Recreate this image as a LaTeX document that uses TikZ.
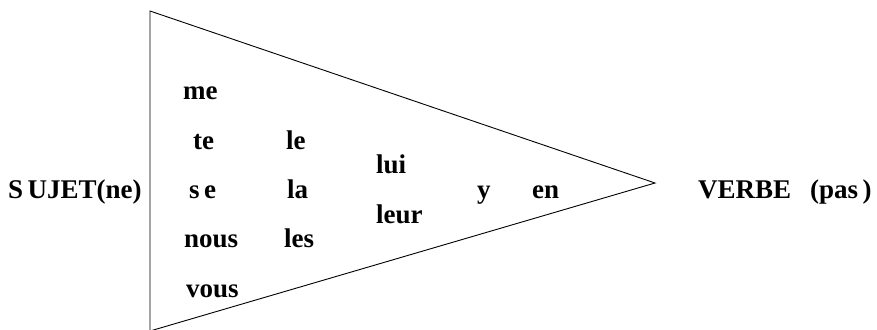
\documentclass[tikz,border=0pt]{standalone}
\usepackage{fontspec}
\setmainfont{Liberation Serif}
\begin{document}
\begin{tikzpicture}[x=1pt,y=-1pt,
  word/.style={anchor=base west,inner sep=0pt,font=\fontsize{27}{32}\selectfont\bfseries},
  edge/.style={draw=black,line width=0.9pt,line join=miter}]
\useasboundingbox (0,0) rectangle (877,329);
\clip (0,0) rectangle (877,329);
\coordinate (tl) at (150,11);
\coordinate (apex) at (655,183);
\coordinate (bl) at (150,331);
\draw[edge] (tl) -- (apex) -- (bl) -- cycle;
\node[word] (sujet) at (8,198) {S\,UJET(ne)};
\node[word] (me) at (183,99) {me};
\node[word] (te) at (193,149) {te};
\node[word] (se) at (189,198) {s\,e};
\node[word] (nous) at (184,247) {nous};
\node[word] (vous) at (186,297) {vous};
\node[word] (le) at (286,149) {le};
\node[word] (la) at (287,198) {la};
\node[word] (les) at (284,247) {les};
\node[word] (lui) at (376,173) {lui};
\node[word] (leur) at (376,223) {leur};
\node[word] (y) at (477,198) {y};
\node[word] (en) at (532,198) {en};
\node[word] (verbe) at (698,198) {VERBE};
\node[word] (pas) at (810,198) {(pas\,)};
\end{tikzpicture}
\end{document}
